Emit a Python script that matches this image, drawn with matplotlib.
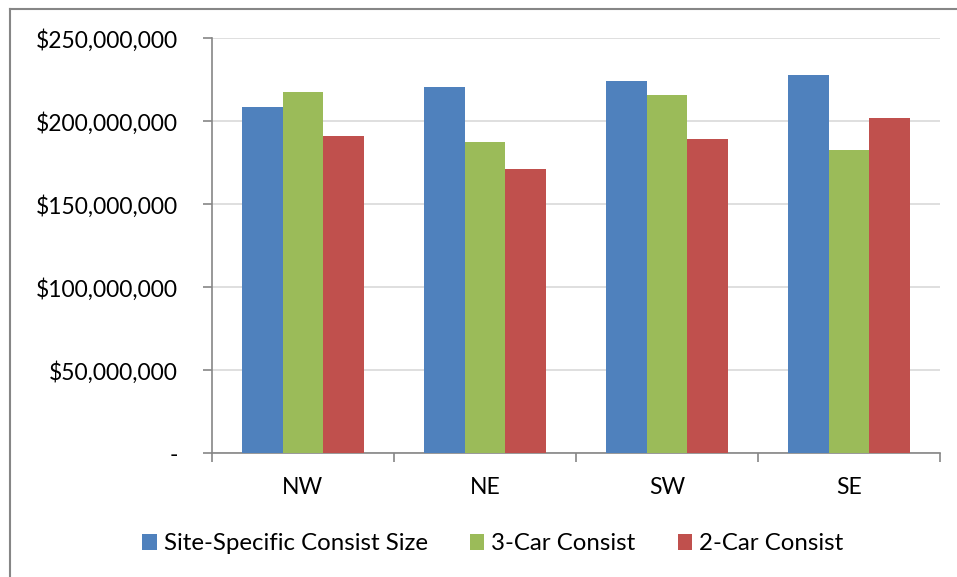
import matplotlib.pyplot as plt
import numpy as np
from matplotlib.lines import Line2D
from matplotlib.ticker import FuncFormatter

regions = ["NW", "NE", "SW", "SE"]
series_names = ["Site-Specific Consist Size", "3-Car Consist", "2-Car Consist"]
site_specific = [208.4e6, 220.5e6, 224.1e6, 227.7e6]
three_car = [217.5e6, 187.3e6, 215.8e6, 182.7e6]
two_car = [191.3e6, 171.3e6, 189.3e6, 202.2e6]
colors = ["#4F81BD", "#9BBB59", "#C0504D"]

plt.rcParams['font.family'] = ['Lato', 'DejaVu Sans']
fs = 16.5

fig = plt.figure(figsize=(9.57, 5.77), dpi=100)
ax = fig.add_axes([212 / 957, 1 - 453.3 / 577, 728 / 957, 415 / 577])

x = np.arange(len(regions))
width = 1 / 4.5
for i, (vals, name, col) in enumerate(zip([site_specific, three_car, two_car], series_names, colors)):
    ax.bar(x + (i - 1) * width, vals, width, color=col, label=name, zorder=3)

ax.set_xlim(-0.5, len(regions) - 0.5)
ax.set_ylim(0, 250e6)
ax.set_yticks(np.arange(0, 250e6 + 1, 50e6))
ax.yaxis.set_major_formatter(FuncFormatter(lambda v, p: "-" if v == 0 else "${:,.0f}".format(v)))
ax.set_xticks(x)
ax.set_xticklabels(regions)
ax.set_xticks(np.arange(-0.5, len(regions)), minor=True)
ax.tick_params(axis='x', which='major', length=0, pad=17, labelsize=fs)
ax.tick_params(axis='x', which='minor', length=6.5, width=1.2, color='#868686', direction='out')
ax.tick_params(axis='y', length=6.5, width=1.2, color='#868686', labelsize=fs, pad=18)

ax.grid(axis='y', color='#D9D9D9', linewidth=1.2, zorder=0)
for side in ['top', 'right']:
    ax.spines[side].set_visible(False)
for side in ['left', 'bottom']:
    ax.spines[side].set_color('#868686')
    ax.spines[side].set_linewidth(1.2)

ax.legend(loc='center', bbox_to_anchor=(0.515, 1 - 544 / 577), bbox_transform=fig.transFigure,
          ncol=3, frameon=False, fontsize=17.3, handlelength=0.6, handleheight=0.6,
          handletextpad=0.3, columnspacing=1.75)

# outer chart frame: only left and top edges fall inside the image
fig.add_artist(Line2D([10 / 957, 10 / 957], [0, 1 - 9 / 577], transform=fig.transFigure,
                      color='#868686', linewidth=1.5))
fig.add_artist(Line2D([10 / 957, 1], [1 - 9 / 577, 1 - 9 / 577], transform=fig.transFigure,
                      color='#868686', linewidth=1.5))

fig.savefig("out.png", dpi=100)
